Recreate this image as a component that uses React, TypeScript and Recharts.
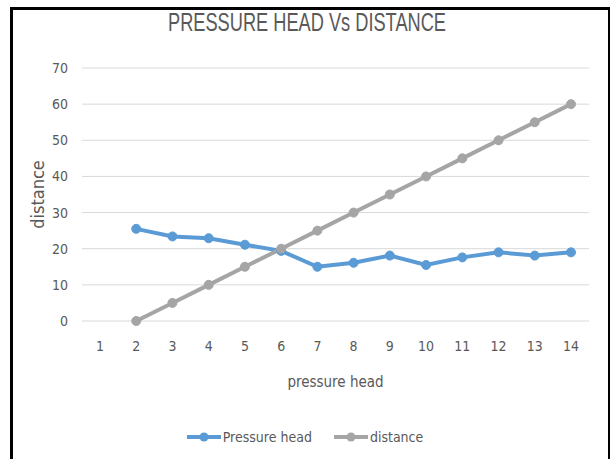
import React from "react";
import { LineChart, Line, XAxis, YAxis, CartesianGrid, Legend } from "recharts";

const categories = ["1", "2", "3", "4", "5", "6", "7", "8", "9", "10", "11", "12", "13", "14"];
const pressureHead = [null, 25.5, 23.4, 22.9, 21.1, 19.4, 15, 16.1, 18.1, 15.5, 17.6, 19, 18.1, 19];
const distance = [null, 0, 5, 10, 15, 20, 25, 30, 35, 40, 45, 50, 55, 60];
const yTicks = [0, 10, 20, 30, 40, 50, 60, 70];
const seriesNames = ["Pressure head", "distance"];
const seriesColors = ["#5B9BD5", "#A5A5A5"];

const FONT = "'DejaVu Sans Condensed', 'DejaVu Sans', sans-serif";
const TEXT = "#595959";

const data = categories.map((c, i) => ({
  cat: c,
  [seriesNames[0]]: pressureHead[i],
  [seriesNames[1]]: distance[i],
}));

const LegendContent = () => (
  <div style={{ display: "flex", justifyContent: "center", alignItems: "center", height: 20, fontFamily: FONT, fontSize: 14, color: TEXT }}>
    {seriesNames.map((n, i) => (
      <div key={n} style={{ display: "flex", alignItems: "center", marginRight: i === 0 ? 22 : 0 }}>
        <svg width={34} height={12} style={{ marginRight: 2 }}>
          <line x1={0} y1={6} x2={34} y2={6} stroke={seriesColors[i]} strokeWidth={4} />
          <circle cx={17} cy={6} r={4.5} fill={seriesColors[i]} />
        </svg>
        <span>{n}</span>
      </div>
    ))}
  </div>
);

export default function App() {
  return (
    <div style={{ position: "absolute", left: 0, top: 0, width: 610, height: 459, overflow: "hidden", background: "#fff", fontFamily: FONT }}>
      <div
        style={{
          position: "absolute",
          left: 10,
          top: 7,
          width: 600,
          height: 470,
          borderLeft: "3px solid #000",
          borderTop: "3px solid #000",
          borderRight: "2px solid #000",
          boxSizing: "border-box",
        }}
      />
      <svg style={{ position: "absolute", left: 0, top: 0 }} width={610} height={40}>
        <text
          x={168}
          y={31}
          textLength={278}
          lengthAdjust="spacingAndGlyphs"
          fontFamily="'Liberation Sans', Arial, sans-serif"
          fontSize={25}
          fill={TEXT}
        >
          PRESSURE HEAD Vs DISTANCE
        </text>
      </svg>
      <div style={{ position: "absolute", left: 0, top: 0 }}>
        <LineChart
          width={610}
          height={459}
          data={data}
          margin={{ top: 68, right: 21, bottom: 88, left: 22 }}
        >
          <CartesianGrid vertical={false} stroke="#d9d9d9" strokeWidth={1} />
          <XAxis
            dataKey="cat"
            axisLine={false}
            tickLine={false}
            tickSize={0}
            tickMargin={20}
            height={30}
            padding={{ left: 18, right: 18 }}
            tick={{ fill: TEXT, fontSize: 14, fontFamily: FONT }}
            label={{
              value: "pressure head",
              position: "insideBottom",
              offset: -36,
              fill: TEXT,
              fontSize: 15,
              fontFamily: FONT,
            }}
          />
          <YAxis
            domain={[0, 70]}
            ticks={yTicks}
            axisLine={false}
            tickLine={false}
            tickSize={0}
            tickMargin={14}
            width={60}
            tick={{ fill: TEXT, fontSize: 14, fontFamily: FONT }}
            label={{
              value: "distance",
              angle: -90,
              position: "insideLeft",
              offset: 16,
              fill: TEXT,
              fontSize: 18,
              fontFamily: FONT,
              style: { textAnchor: "middle" },
            }}
          />
          <Legend
            verticalAlign="bottom"
            align="center"
            content={<LegendContent />}
            wrapperStyle={{ position: "absolute", top: 427, left: 0, width: 610, height: 20 }}
          />
          <Line
            type="linear"
            dataKey={seriesNames[0]}
            stroke={seriesColors[0]}
            strokeWidth={4}
            dot={{ r: 4.5, fill: seriesColors[0], stroke: seriesColors[0], strokeWidth: 1 }}
            isAnimationActive={false}
            connectNulls={false}
          />
          <Line
            type="linear"
            dataKey={seriesNames[1]}
            stroke={seriesColors[1]}
            strokeWidth={4}
            dot={{ r: 4.5, fill: seriesColors[1], stroke: seriesColors[1], strokeWidth: 1 }}
            isAnimationActive={false}
            connectNulls={false}
          />
        </LineChart>
      </div>
    </div>
  );
}
